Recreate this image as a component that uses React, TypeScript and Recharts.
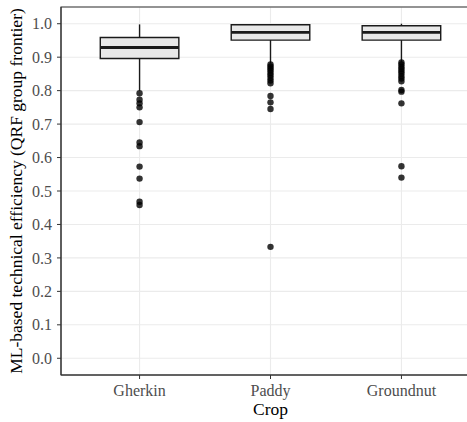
import {
  ComposedChart,
  XAxis,
  YAxis,
  CartesianGrid,
  Scatter,
  ReferenceArea,
  ReferenceLine,
} from "recharts";

const crops = ["Gherkin", "Paddy", "Groundnut"];
const q1 = [0.896, 0.951, 0.951];
const median = [0.929, 0.974, 0.974];
const q3 = [0.959, 0.997, 0.994];
const whiskerLow = [0.8, 0.882, 0.886];
const whiskerHigh = [0.998, 0.999, 1.0];

const gherkinOutliers = [0.792, 0.773, 0.762, 0.75, 0.706, 0.645, 0.634, 0.573, 0.537, 0.468, 0.458];
const paddyOutliers = [0.878, 0.872, 0.866, 0.86, 0.853, 0.846, 0.838, 0.83, 0.822, 0.784, 0.765, 0.745, 0.333];
const groundnutOutliers = [0.884, 0.878, 0.871, 0.865, 0.858, 0.851, 0.843, 0.836, 0.828, 0.802, 0.797, 0.762, 0.574, 0.54];

const yTicks = [0, 0.1, 0.2, 0.3, 0.4, 0.5, 0.6, 0.7, 0.8, 0.9, 1.0];
const xTicks = [1, 2, 3];

const FONT = "'Liberation Serif', 'Times New Roman', serif";
const BOX_HALF = 0.3;

const outlierData = [gherkinOutliers, paddyOutliers, groundnutOutliers].flatMap((vals, i) =>
  vals.map((y) => ({ x: i + 1, y }))
);

function Dot(props: { cx?: number; cy?: number }) {
  if (props.cx == null || props.cy == null) return null;
  return <circle cx={props.cx} cy={props.cy} r={3.2} fill="#000" fillOpacity={0.8} />;
}

export default function App() {
  return (
    <div style={{ position: "absolute", left: 0, top: 0, width: 467, height: 422, overflow: "hidden", background: "#fff" }}>
      <ComposedChart
        width={480}
        height={422}
        margin={{ top: 7, right: 0, bottom: 0, left: 0 }}
        style={{ fontFamily: FONT }}
      >
        <CartesianGrid stroke="#ebebeb" strokeWidth={1.1} />
        <XAxis
          type="number"
          dataKey="x"
          domain={[0.4, 3.6]}
          ticks={xTicks}
          allowDataOverflow
          tickFormatter={(v: number) => crops[v - 1] ?? ""}
          height={47}
          tickSize={4}
          tickMargin={6}
          axisLine={{ stroke: "#333" }}
          tickLine={{ stroke: "#333" }}
          tick={{ fill: "#4d4d4d", fontSize: 16, fontFamily: FONT }}
          label={{ value: "Crop", position: "insideBottom", offset: 7, fill: "#000", fontSize: 17.5, fontFamily: FONT }}
        />
        <YAxis
          type="number"
          dataKey="y"
          domain={[-0.05, 1.05]}
          ticks={yTicks}
          allowDataOverflow
          tickFormatter={(v: number) => v.toFixed(1)}
          width={61}
          tickSize={4}
          tickMargin={5}
          axisLine={{ stroke: "#333" }}
          tickLine={{ stroke: "#333" }}
          tick={{ fill: "#4d4d4d", fontSize: 16, fontFamily: FONT }}
          label={{
            value: "ML-based technical efficiency (QRF group frontier)",
            angle: -90,
            position: "center",
            dx: -15,
            fill: "#000",
            fontSize: 17.5,
            fontFamily: FONT,
          }}
        />
        {crops.map((c, i) => (
          <ReferenceLine
            key={`wl-${c}`}
            segment={[{ x: i + 1, y: whiskerLow[i] }, { x: i + 1, y: q1[i] }]}
            stroke="#1a1a1a"
            strokeWidth={1.4}
          />
        ))}
        {crops.map((c, i) => (
          <ReferenceLine
            key={`wh-${c}`}
            segment={[{ x: i + 1, y: q3[i] }, { x: i + 1, y: whiskerHigh[i] }]}
            stroke="#1a1a1a"
            strokeWidth={1.4}
          />
        ))}
        {crops.map((c, i) => (
          <ReferenceArea
            key={`box-${c}`}
            x1={i + 1 - BOX_HALF}
            x2={i + 1 + BOX_HALF}
            y1={q1[i]}
            y2={q3[i]}
            fill="#e8e8e8"
            fillOpacity={1}
            stroke="#1a1a1a"
            strokeWidth={1.4}
          />
        ))}
        {crops.map((c, i) => (
          <ReferenceLine
            key={`med-${c}`}
            segment={[{ x: i + 1 - BOX_HALF, y: median[i] }, { x: i + 1 + BOX_HALF, y: median[i] }]}
            stroke="#1a1a1a"
            strokeWidth={2.8}
          />
        ))}
        <ReferenceArea
          x1={0.4}
          x2={3.6}
          y1={-0.05}
          y2={1.05}
          fill="none"
          fillOpacity={0}
          stroke="#333"
          strokeWidth={1.1}
        />
        <Scatter data={outlierData} dataKey="y" shape={<Dot />} isAnimationActive={false} />
      </ComposedChart>
    </div>
  );
}
